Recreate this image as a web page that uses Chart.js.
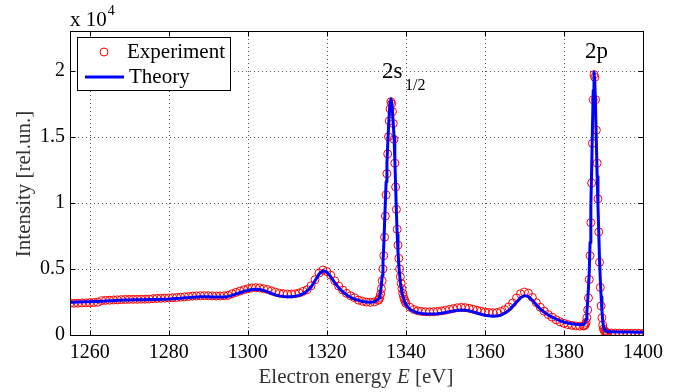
<!DOCTYPE html>
<html>
<head>
<meta charset="utf-8">
<script src="https://cdn.jsdelivr.net/npm/chart.js@4"></script>
<style>
  html, body { margin: 0; padding: 0; background: #fff; }
</style>
</head>
<body>
<canvas id="chart" width="682" height="392"></canvas>
<script>
// electron energy, eV (finer steps across the two peaks)
const energy = [
  1255, 1256, 1257, 1258, 1259, 1260, 1261, 1262, 1263, 1264,
  1265, 1266, 1267, 1268, 1269, 1270, 1271, 1272, 1273, 1274,
  1275, 1276, 1277, 1278, 1279, 1280, 1281, 1282, 1283, 1284,
  1285, 1286, 1287, 1288, 1289, 1290, 1291, 1292, 1293, 1294,
  1295, 1296, 1297, 1298, 1299, 1300, 1301, 1302, 1303, 1304,
  1305, 1306, 1307, 1308, 1309, 1310, 1311, 1312, 1313, 1314,
  1315, 1316, 1317, 1318, 1319, 1320, 1321, 1322, 1323, 1324,
  1325, 1326, 1327, 1328, 1329, 1330, 1331, 1332, 1333,
  1333.2, 1333.4, 1333.6, 1333.8, 1334, 1334.2, 1334.4, 1334.6, 1334.8, 1335,
  1335.2, 1335.4, 1335.6, 1335.8, 1336, 1336.2, 1336.4, 1336.6, 1336.8, 1337,
  1337.2, 1337.4, 1337.6, 1337.8, 1338, 1338.2, 1338.4, 1338.6, 1338.8, 1339,
  1339.2, 1339.4, 1339.6, 1339.8, 1340,
  1341, 1342, 1343, 1344, 1345, 1346, 1347, 1348, 1349, 1350,
  1351, 1352, 1353, 1354, 1355, 1356, 1357, 1358, 1359, 1360,
  1361, 1362, 1363, 1364, 1365, 1366, 1367, 1368, 1369, 1370,
  1371, 1372, 1373, 1374, 1375, 1376, 1377, 1378, 1379, 1380,
  1381, 1382, 1383, 1384, 1385,
  1385.2, 1385.4, 1385.6, 1385.8, 1386, 1386.2, 1386.4, 1386.6, 1386.8, 1387,
  1387.2, 1387.4, 1387.6, 1387.8, 1388, 1388.2, 1388.4, 1388.6, 1388.8, 1389,
  1389.2, 1389.4, 1389.6, 1389.8, 1390, 1390.2, 1390.4, 1390.6, 1390.8, 1391,
  1392, 1393, 1394, 1395, 1396, 1397, 1398, 1399, 1400
];

// intensity in units of 10^4
const experiment = [
  0.24, 0.24, 0.241, 0.242, 0.243, 0.245, 0.246, 0.248, 0.26, 0.262,
  0.263, 0.265, 0.266, 0.268, 0.269, 0.27, 0.27, 0.27, 0.271, 0.271,
  0.272, 0.275, 0.277, 0.278, 0.279, 0.28, 0.282, 0.284, 0.286, 0.289,
  0.291, 0.294, 0.296, 0.297, 0.298, 0.297, 0.296, 0.295, 0.295, 0.297,
  0.3, 0.312, 0.322, 0.332, 0.342, 0.35, 0.356, 0.358, 0.356, 0.35,
  0.344, 0.334, 0.324, 0.316, 0.312, 0.31, 0.31, 0.312, 0.318, 0.33,
  0.343, 0.372, 0.418, 0.468, 0.492, 0.48, 0.452, 0.41, 0.37, 0.34,
  0.315, 0.297, 0.282, 0.264, 0.255, 0.249, 0.247, 0.25, 0.262,
  0.27, 0.285, 0.31, 0.35, 0.41, 0.5, 0.6, 0.74, 0.9, 1.06,
  1.22, 1.37, 1.5, 1.62, 1.71, 1.765, 1.75, 1.69, 1.6, 1.48,
  1.3, 1.12, 0.95, 0.8, 0.68, 0.58, 0.5, 0.44, 0.39, 0.35,
  0.315, 0.29, 0.27, 0.255, 0.24,
  0.21, 0.193, 0.183, 0.178, 0.176, 0.175, 0.176, 0.178, 0.182, 0.187,
  0.194, 0.2, 0.206, 0.209, 0.207, 0.202, 0.195, 0.187, 0.18, 0.174,
  0.17, 0.168, 0.17, 0.178, 0.192, 0.212, 0.242, 0.28, 0.312, 0.325,
  0.316, 0.284, 0.245, 0.21, 0.18, 0.155, 0.135, 0.115, 0.1, 0.088,
  0.079, 0.073, 0.069, 0.067, 0.068,
  0.072, 0.08, 0.095, 0.13, 0.19, 0.28, 0.42, 0.6, 0.85, 1.15,
  1.45, 1.78, 1.97, 1.95, 1.78, 1.55, 1.3, 1.03, 0.78, 0.55,
  0.36, 0.22, 0.13, 0.075, 0.045, 0.032, 0.025, 0.02, 0.018, 0.016,
  0.015, 0.014, 0.014, 0.013, 0.013, 0.013, 0.013, 0.012, 0.012
];

const theory = [
  0.247, 0.248, 0.249, 0.25, 0.251, 0.252, 0.253, 0.254, 0.256, 0.257,
  0.259, 0.26, 0.262, 0.263, 0.264, 0.265, 0.266, 0.266, 0.267, 0.267,
  0.268, 0.268, 0.269, 0.27, 0.271, 0.272, 0.274, 0.276, 0.278, 0.281,
  0.283, 0.286, 0.288, 0.289, 0.29, 0.289, 0.288, 0.287, 0.287, 0.288,
  0.292, 0.3, 0.31, 0.32, 0.33, 0.338, 0.344, 0.346, 0.344, 0.337,
  0.326, 0.314, 0.303, 0.296, 0.292, 0.29, 0.29, 0.293, 0.3, 0.313,
  0.333, 0.362, 0.41, 0.46, 0.487, 0.475, 0.44, 0.395, 0.358, 0.327,
  0.303, 0.285, 0.272, 0.262, 0.254, 0.249, 0.247, 0.252, 0.27,
  0.28, 0.3, 0.33, 0.38, 0.45, 0.55, 0.68, 0.84, 1.01, 1.16,
  1.3, 1.44, 1.57, 1.68, 1.76, 1.785, 1.76, 1.69, 1.6, 1.5,
  1.33, 1.13, 0.93, 0.76, 0.63, 0.53, 0.46, 0.4, 0.355, 0.32,
  0.3, 0.28, 0.26, 0.24, 0.227,
  0.195, 0.178, 0.168, 0.162, 0.159, 0.158, 0.159, 0.161, 0.165, 0.17,
  0.176, 0.182, 0.187, 0.189, 0.188, 0.183, 0.175, 0.166, 0.157, 0.15,
  0.145, 0.142, 0.143, 0.15, 0.165, 0.185, 0.215, 0.25, 0.282, 0.298,
  0.29, 0.262, 0.228, 0.197, 0.172, 0.152, 0.135, 0.121, 0.108, 0.098,
  0.09, 0.085, 0.081, 0.079, 0.08,
  0.088, 0.1, 0.12, 0.175, 0.26, 0.36, 0.48, 0.7, 0.97, 1.24,
  1.55, 1.85, 1.99, 1.92, 1.72, 1.45, 1.2, 0.98, 0.78, 0.57,
  0.42, 0.29, 0.19, 0.11, 0.065, 0.045, 0.035, 0.03, 0.027, 0.025,
  0.024, 0.023, 0.023, 0.022, 0.022, 0.022, 0.021, 0.021, 0.021
];

const xTicks = [1260, 1280, 1300, 1320, 1340, 1360, 1380, 1400];
const yTicks = [0, 0.5, 1, 1.5, 2];

const SERIF = '"Liberation Serif", "Times New Roman", serif';

const toPoints = ys => energy.map((e, i) => ({ x: e, y: ys[i] }));

const line = (ctx, x1, y1, x2, y2) => {
  ctx.beginPath();
  ctx.moveTo(x1, y1);
  ctx.lineTo(x2, y2);
  ctx.stroke();
};

// matlab look: dotted grid, boxed axes with inward ticks, legend and labels
const decor = {
  id: 'decor',
  beforeDatasetsDraw(chart) {
    const { ctx, chartArea: a, scales: { x, y } } = chart;
    ctx.save();
    ctx.strokeStyle = '#555';
    ctx.lineWidth = 1;
    ctx.setLineDash([1, 3]);
    xTicks.forEach(v => {
      const px = Math.round(x.getPixelForValue(v)) + 0.5;
      line(ctx, px, a.top, px, a.bottom);
    });
    yTicks.forEach(v => {
      const py = Math.round(y.getPixelForValue(v)) + 0.5;
      line(ctx, a.left, py, a.right, py);
    });
    ctx.restore();
  },
  afterDatasetsDraw(chart) {
    const { ctx, chartArea: a, scales: { x, y } } = chart;
    ctx.save();
    ctx.strokeStyle = '#000';
    ctx.lineWidth = 1;
    const L = Math.round(a.left) + 0.5, R = Math.round(a.right) + 0.5;
    const T = Math.round(a.top) + 0.5, B = Math.round(a.bottom) + 0.5;
    ctx.strokeRect(L, T, R - L, B - T);
    xTicks.forEach(v => {
      const px = Math.round(x.getPixelForValue(v)) + 0.5;
      line(ctx, px, B, px, B - 5);
      line(ctx, px, T, px, T + 5);
    });
    yTicks.forEach(v => {
      const py = Math.round(y.getPixelForValue(v)) + 0.5;
      line(ctx, L, py, L + 5, py);
      line(ctx, R, py, R - 5, py);
    });

    // legend
    ctx.fillStyle = '#fff';
    ctx.fillRect(77.5, 37.5, 153, 53);
    ctx.strokeStyle = '#000';
    ctx.strokeRect(77.5, 37.5, 153, 53);
    ctx.strokeStyle = '#ff0000';
    ctx.beginPath();
    ctx.arc(104, 52, 4, 0, Math.PI * 2);
    ctx.stroke();
    ctx.strokeStyle = '#0000ff';
    ctx.lineWidth = 3;
    line(ctx, 85, 77, 124, 77);
    ctx.fillStyle = '#000';
    ctx.font = '21px ' + SERIF;
    ctx.textBaseline = 'alphabetic';
    ctx.textAlign = 'left';
    ctx.fillText('Experiment', 127, 58);
    ctx.fillText('Theory', 129, 83);

    // peak labels
    ctx.font = '23px ' + SERIF;
    ctx.fillText('2s', 382, 78);
    ctx.fillText('2p', 585, 58);
    ctx.font = '16px ' + SERIF;
    ctx.fillText('1/2', 405, 90);

    // exponent
    ctx.font = '21px ' + SERIF;
    ctx.fillText('x 10', 70, 26);
    const ew = ctx.measureText('x 10').width;
    ctx.font = '14px ' + SERIF;
    ctx.fillText('4', 70 + ew + 1, 15);

    // x title with italic E
    ctx.fillStyle = '#333';
    const p1 = 'Electron energy ', p2 = 'E', p3 = ' [eV]';
    ctx.font = '21px ' + SERIF;
    const w1 = ctx.measureText(p1).width, w3 = ctx.measureText(p3).width;
    ctx.font = 'italic 21px ' + SERIF;
    const w2 = ctx.measureText(p2).width;
    let sx = 356 - (w1 + w2 + w3) / 2;
    ctx.font = '21px ' + SERIF;
    ctx.fillText(p1, sx, 383);
    ctx.font = 'italic 21px ' + SERIF;
    ctx.fillText(p2, sx + w1, 383);
    ctx.font = '21px ' + SERIF;
    ctx.fillText(p3, sx + w1 + w2, 383);

    // y title
    ctx.translate(30, 184);
    ctx.rotate(-Math.PI / 2);
    ctx.textAlign = 'center';
    ctx.fillText('Intensity [rel.un.]', 0, 0);
    ctx.restore();
  }
};

new Chart(document.getElementById('chart'), {
  type: 'scatter',
  data: {
    datasets: [
      {
        label: 'Theory',
        data: toPoints(theory),
        showLine: true,
        borderColor: '#0000ff',
        borderWidth: 3,
        borderJoinStyle: 'round',
        borderCapStyle: 'round',
        pointRadius: 0,
        tension: 0,
        order: 0,
      },
      {
        label: 'Experiment',
        data: toPoints(experiment),
        showLine: false,
        pointStyle: 'circle',
        pointRadius: 4,
        pointBorderWidth: 1,
        pointBorderColor: '#ff0000',
        pointBackgroundColor: 'rgba(0,0,0,0)',
        order: 1,
      },
    ],
  },
  options: {
    responsive: false,
    animation: false,
    events: [],
    layout: { padding: { top: 31, right: 39, left: 0, bottom: 0 } },
    plugins: { legend: { display: false }, tooltip: { enabled: false } },
    scales: {
      x: {
        type: 'linear',
        min: 1255,
        max: 1400,
        afterBuildTicks: s => { s.ticks = xTicks.map(v => ({ value: v })); },
        afterFit: s => { s.height = 57; },
        grid: { display: false, drawTicks: false },
        border: { display: false },
        ticks: {
          padding: 6,
          color: '#000',
          maxRotation: 0,
          autoSkip: false,
          font: { family: SERIF, size: 20 },
          callback: v => String(v),
        },
      },
      y: {
        type: 'linear',
        min: 0,
        max: 2.3,
        afterBuildTicks: s => { s.ticks = yTicks.map(v => ({ value: v })); },
        afterFit: s => { s.width = 70; },
        grid: { display: false, drawTicks: false },
        border: { display: false },
        ticks: {
          padding: 5,
          color: '#000',
          autoSkip: false,
          font: { family: SERIF, size: 20 },
          callback: v => String(v),
        },
      },
    },
  },
  plugins: [decor],
});
</script>
</body>
</html>
